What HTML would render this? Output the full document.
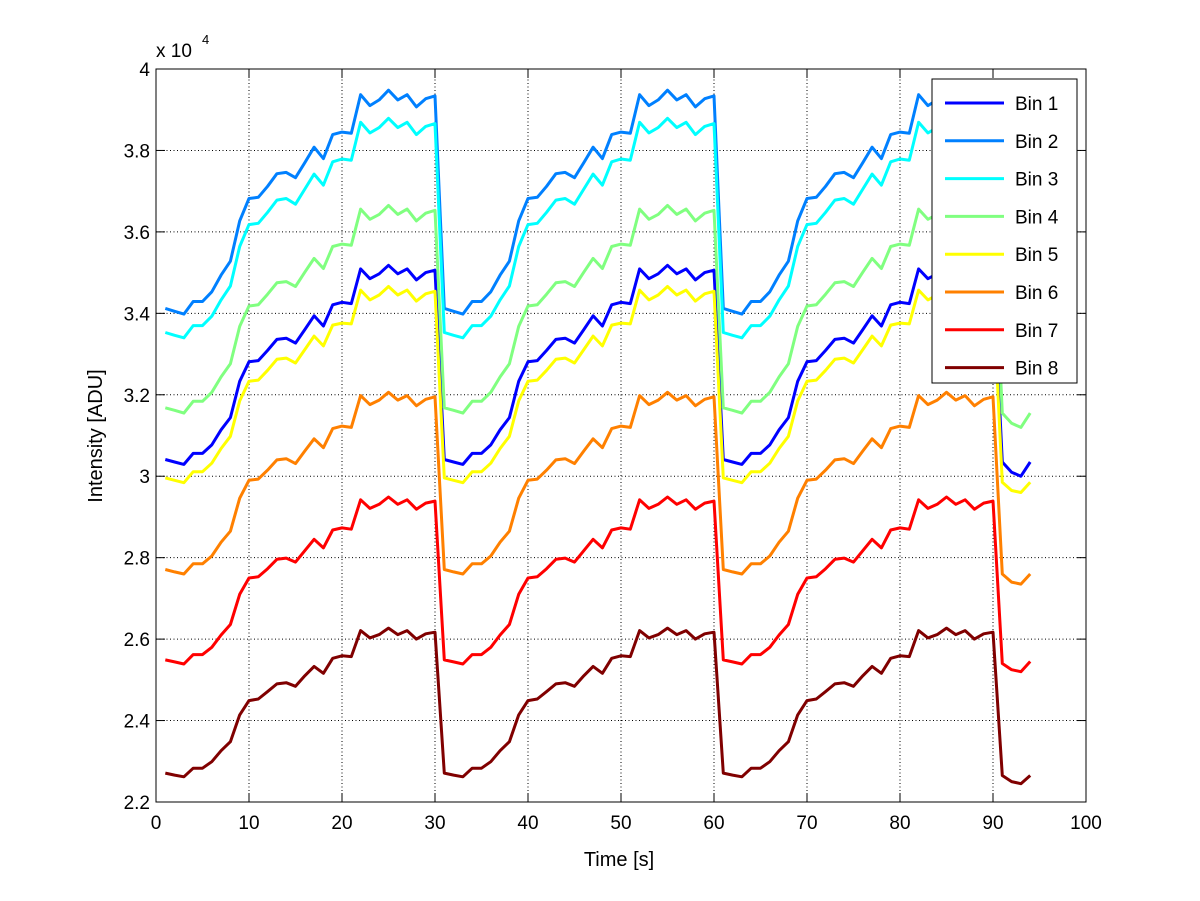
<!DOCTYPE html>
<html><head><meta charset="utf-8">
<style>
html,body{margin:0;padding:0;background:#fff;}
svg{display:block;font-family:"Liberation Sans",Arial,sans-serif;}
</style></head>
<body>
<svg id="chart" width="1200" height="901" viewBox="0 0 1200 901"></svg>
<script>
// ---- data ----
const cyc1 = [3.041,3.035,3.029,3.056,3.056,3.077,3.114,3.144,3.233,3.281,3.284,3.309,3.336,3.339,3.327,3.360,3.394,3.369,3.421,3.427,3.424,3.509,3.485,3.497,3.518,3.497,3.509,3.482,3.500,3.506];
const cyc2 = [3.412,3.405,3.398,3.429,3.429,3.453,3.494,3.528,3.627,3.682,3.685,3.712,3.743,3.746,3.733,3.770,3.808,3.780,3.839,3.845,3.842,3.937,3.910,3.924,3.948,3.924,3.937,3.907,3.927,3.934];
const cyc3 = [3.353,3.346,3.340,3.370,3.370,3.393,3.433,3.467,3.564,3.618,3.621,3.648,3.678,3.682,3.668,3.705,3.742,3.715,3.772,3.779,3.776,3.869,3.843,3.856,3.879,3.856,3.869,3.839,3.859,3.866];
const cyc4 = [3.168,3.162,3.155,3.184,3.184,3.206,3.244,3.276,3.368,3.418,3.421,3.447,3.475,3.478,3.466,3.501,3.535,3.510,3.564,3.570,3.567,3.656,3.631,3.643,3.665,3.643,3.656,3.627,3.646,3.653];
const cyc5 = [2.996,2.990,2.984,3.011,3.011,3.032,3.068,3.098,3.185,3.233,3.236,3.260,3.287,3.290,3.278,3.311,3.344,3.320,3.371,3.376,3.374,3.457,3.433,3.445,3.466,3.445,3.457,3.430,3.448,3.454];
const cyc6 = [2.771,2.765,2.760,2.785,2.785,2.804,2.838,2.865,2.946,2.990,2.993,3.015,3.040,3.043,3.031,3.062,3.092,3.070,3.117,3.123,3.120,3.198,3.176,3.187,3.206,3.187,3.198,3.173,3.189,3.195];
const cyc7 = [2.549,2.544,2.539,2.562,2.562,2.580,2.610,2.636,2.710,2.750,2.753,2.773,2.796,2.799,2.789,2.817,2.845,2.824,2.868,2.873,2.870,2.942,2.921,2.931,2.949,2.931,2.942,2.919,2.934,2.939];
const cyc8 = [2.271,2.266,2.262,2.283,2.283,2.299,2.326,2.348,2.414,2.449,2.453,2.471,2.490,2.493,2.484,2.510,2.533,2.516,2.553,2.559,2.557,2.621,2.603,2.611,2.627,2.611,2.621,2.600,2.613,2.617];
const tail1 = [3.035,3.010,3.000,3.035];
const tail2 = [3.400,3.385,3.380,3.410];
const tail3 = [3.340,3.320,3.315,3.345];
const tail4 = [3.155,3.130,3.120,3.155];
const tail5 = [2.985,2.965,2.960,2.985];
const tail6 = [2.760,2.740,2.735,2.760];
const tail7 = [2.540,2.525,2.520,2.545];
const tail8 = [2.265,2.250,2.245,2.265];
const bin1 = [...cyc1,...cyc1,...cyc1,...tail1];
const bin2 = [...cyc2,...cyc2,...cyc2,...tail2];
const bin3 = [...cyc3,...cyc3,...cyc3,...tail3];
const bin4 = [...cyc4,...cyc4,...cyc4,...tail4];
const bin5 = [...cyc5,...cyc5,...cyc5,...tail5];
const bin6 = [...cyc6,...cyc6,...cyc6,...tail6];
const bin7 = [...cyc7,...cyc7,...cyc7,...tail7];
const bin8 = [...cyc8,...cyc8,...cyc8,...tail8];
const seriesNames = ["Bin 1","Bin 2","Bin 3","Bin 4","Bin 5","Bin 6","Bin 7","Bin 8"];
const xTicks = [0,10,20,30,40,50,60,70,80,90,100];
const yTicks = [2.2,2.4,2.6,2.8,3,3.2,3.4,3.6,3.8,4];

const allSeries = [bin1,bin2,bin3,bin4,bin5,bin6,bin7,bin8];
const colors = ["#0000ff","#0080ff","#00ffff","#80ff80","#ffff00","#ff8000","#ff0000","#800000"];
const L=156,R=1086,T=69,B=802;
const X = v => L + (v-0)/(100-0)*(R-L);
const Y = v => B - (v-2.2)/(4-2.2)*(B-T);
const NS="http://www.w3.org/2000/svg";
const svg=document.getElementById('chart');
function mk(tag,attrs,parent){const e=document.createElementNS(NS,tag);for(const k in attrs)e.setAttribute(k,attrs[k]);(parent||svg).appendChild(e);return e;}

const bg=mk('rect',{x:L,y:T,width:R-L,height:B-T,fill:'#fff'});



// grid
xTicks.forEach(t=>{
  if(t>0&&t<100){const g=mk('line',{x1:X(t),x2:X(t),y1:T,y2:B,stroke:'#000','stroke-width':1,'stroke-dasharray':'1,2.5'});
  
  }
});
yTicks.forEach(t=>{
  if(t>2.2&&t<4){const g=mk('line',{x1:L,x2:R,y1:Y(t),y2:Y(t),stroke:'#000','stroke-width':1,'stroke-dasharray':'1,2.5'});
  
  }
});

// series
allSeries.forEach((s,i)=>{
  const pts=s.map((v,j)=>X(j+1).toFixed(1)+','+Y(v).toFixed(1)).join(' ');
  const p=mk('polyline',{points:pts,fill:'none',stroke:colors[i],'stroke-width':3,'stroke-linejoin':'round'});
  
  
});

// axes box
const box=mk('rect',{x:L,y:T,width:R-L,height:B-T,fill:'none',stroke:'#000','stroke-width':1});



// ticks and labels
xTicks.forEach(t=>{
  mk('line',{x1:X(t),x2:X(t),y1:B,y2:B-9,stroke:'#000'});
  mk('line',{x1:X(t),x2:X(t),y1:T,y2:T+9,stroke:'#000'});
  const tx=mk('text',{x:X(t),y:B+27,'text-anchor':'middle','font-size':19,fill:'#000'});
  tx.textContent=t;
  
  
});
yTicks.forEach(t=>{
  mk('line',{x1:L,x2:L+9,y1:Y(t),y2:Y(t),stroke:'#000'});
  mk('line',{x1:R,x2:R-9,y1:Y(t),y2:Y(t),stroke:'#000'});
  const tx=mk('text',{x:L-6,y:Y(t)+7,'text-anchor':'end','font-size':19,fill:'#000'});
  tx.textContent=(t===3||t===4)?String(t):t.toFixed(1);
  
  
});

// exponent
const ex=mk('text',{x:156,y:57,'font-size':19,fill:'#000'});
ex.textContent='x 10';


const ex2=mk('text',{x:202,y:44,'font-size':13,fill:'#000'});
ex2.textContent='4';



// axis titles
const xt=mk('text',{x:619,y:866,'text-anchor':'middle','font-size':20,fill:'#000'});
xt.textContent='Time [s]';


const yt=mk('text',{x:0,y:0,'text-anchor':'middle','font-size':20,fill:'#000',transform:'translate(102,436) rotate(-90)'});
yt.textContent='Intensity [ADU]';



// legend
const lg=mk('g',{});


mk('rect',{x:932,y:79,width:145,height:304,fill:'#fff',stroke:'#000','stroke-width':1},lg);
seriesNames.forEach((n,i)=>{
  const yy=103+i*37.8;
  const g=mk('g',{},lg);
  
  
  mk('line',{x1:945,x2:1004,y1:yy,y2:yy,stroke:colors[i],'stroke-width':3},g);
  const tx=mk('text',{x:1015,y:yy+7,'font-size':19,fill:'#000'},g);
  tx.textContent=n;
});
</script>
</body></html>
